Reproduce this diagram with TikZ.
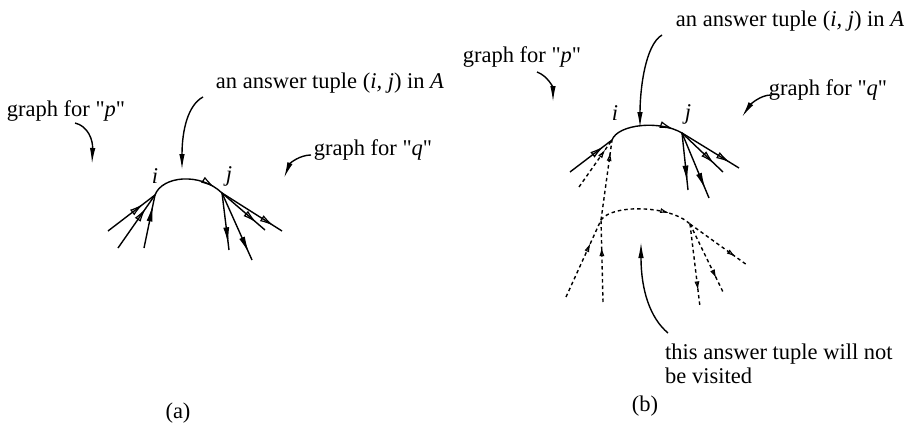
\documentclass[tikz,border=0pt]{standalone}
\usepackage{fontspec}
\setmainfont{Liberation Serif}
\newfontfamily\plainq{Liberation Serif}
\newcommand{\dq}{{\plainq"}}
\usetikzlibrary{arrows.meta,decorations.markings}
\begin{document}
\begin{tikzpicture}[x=1pt,y=-1pt,
 lbl/.style={inner sep=0pt,anchor=base,font=\fontsize{22.5}{22.5}\selectfont},
 lblw/.style={inner sep=0pt,anchor=base west,font=\fontsize{22.5}{22.5}\selectfont},
 ptr/.style={line width=1.4pt,-{Latex[length=16pt,width=5.5pt]}},
 edge/.style={line width=1.4pt},
 dsh/.style={line width=1.4pt,dash pattern=on 3.5pt off 3pt},
 tipat/.style={postaction={decorate,decoration={markings,mark=at position #1 with {\arrow{Latex[length=17pt,width=6pt]}}}}},
 otipat/.style={postaction={decorate,decoration={markings,mark=at position #1 with {\arrow{Latex[open,length=14pt,width=7pt,line width=1.2pt]}}}}},
 stipat/.style={postaction={decorate,decoration={markings,mark=at position #1 with {\arrow{Latex[open,length=9pt,width=5pt,line width=1.1pt]}}}}},
]
\fill[white] (0,0) rectangle (917,428);
\useasboundingbox (0,0) rectangle (917,428);

% ---------------- panel (a) ----------------
\node[lbl] (pa) at (66,116) {graph for \dq\textit{p}\dq};
\node[lbl] (ansa) at (330,88) {an answer tuple (\textit{i, j}) in \textit{A}};
\node[lbl] (qa) at (373,155) {graph for \dq\textit{q}\dq};
\node[lbl] (capa) at (178,418) {(a)};
\node[lbl] (ilaba) at (155,183) {\textit{i}};
\node[lbl] (jlaba) at (229,181) {\textit{j}};

\coordinate (ia) at (155,195);
\coordinate (ja) at (222,193);
\coordinate (la1) at (108,231);
\coordinate (la2) at (118,248);
\coordinate (la3) at (144,248);
\coordinate (ra1) at (229,250);
\coordinate (ra2) at (252,260);
\coordinate (ra3) at (265,230);
\coordinate (ra4) at (282,231);

\coordinate (pas) at (75,123);  \coordinate (pae) at (92,164);
\coordinate (aas) at (203,97);  \coordinate (aae) at (182,170);
\coordinate (qas) at (311,155); \coordinate (qae) at (284,178);

\draw[ptr] (pas) .. controls (88,126) and (93,140) .. (pae);
\draw[ptr] (aas) .. controls (188,105) and (182,130) .. (aae);
\draw[ptr] (qas) .. controls (300,155) and (290,163) .. (qae);

\draw[edge,otipat=0.88] (ia) .. controls (162,176) and (200,172) .. (ja);
\draw[edge,otipat=0.75] (la1) -- (ia);
\draw[edge,otipat=0.75] (la2) -- (ia);
\draw[edge,tipat=0.82] (la3) -- (ia);
\draw[edge,tipat=0.9] (ja) -- (ra1);
\draw[edge,tipat=0.9] (ja) -- (ra2);
\draw[edge,otipat=0.8] (ja) -- (ra3);
\draw[edge,otipat=0.86] (ja) -- (ra4);

% ---------------- panel (b) ----------------
\node[lbl] (pb) at (522,63) {graph for \dq\textit{p}\dq};
\node[lbl] (ansb) at (790,27) {an answer tuple (\textit{i, j}) in \textit{A}};
\node[lbl] (qb) at (828,95) {graph for \dq\textit{q}\dq};
\node[lbl] (capb) at (645,411) {(b)};
\node[lbl] (ilabb) at (615,120) {\textit{i}};
\node[lbl] (jlabb) at (688,119) {\textit{j}};
\node[lblw] (nv1) at (665,359) {this answer tuple will not};
\node[lblw] (nv2) at (665,383) {be visited};

\coordinate (ib) at (612,140);
\coordinate (jb) at (682,133);
\coordinate (ib2) at (601,220);
\coordinate (jb2) at (690,224);
\coordinate (lb1) at (570,172);
\coordinate (lb2) at (579,187);
\coordinate (lb3) at (566,297);
\coordinate (lb4) at (603,302);
\coordinate (rb1) at (688,190);
\coordinate (rb2) at (709,198);
\coordinate (rb3) at (723,172);
\coordinate (rb4) at (739,168);
\coordinate (rd1) at (700,307);
\coordinate (rd2) at (723,292);
\coordinate (rd3) at (747,265);

\coordinate (pbs) at (537,72);  \coordinate (pbe) at (553,102);
\coordinate (abs) at (662,35);  \coordinate (abe) at (640,128);
\coordinate (qbs) at (771,95);  \coordinate (qbe) at (742,117);
\coordinate (nvs) at (668,333); \coordinate (nve) at (641,242);

\draw[ptr] (pbs) .. controls (548,76) and (553,88) .. (pbe);
\draw[ptr] (abs) .. controls (645,45) and (640,90) .. (abe);
\draw[ptr] (qbs) .. controls (760,95) and (750,105) .. (qbe);
\draw[ptr] (nvs) .. controls (650,318) and (641,290) .. (nve);

\draw[edge,otipat=0.88] (ib) .. controls (618,124) and (660,120) .. (jb);
\draw[edge,otipat=0.8] (lb1) -- (ib);
\draw[dsh,stipat=0.8] (lb2) -- (ib);
\draw[dsh,stipat=0.85] (ib2) -- (ib);
\draw[edge,tipat=0.87] (jb) -- (rb1);
\draw[edge,tipat=0.87] (jb) -- (rb2);
\draw[edge,otipat=0.78] (jb) -- (rb3);
\draw[edge,otipat=0.84] (jb) -- (rb4);

\draw[dsh,stipat=0.75] (ib2) .. controls (612,204) and (670,205) .. (jb2);
\draw[dsh,stipat=0.7] (lb3) -- (ib2);
\draw[dsh,stipat=0.67] (lb4) -- (ib2);
\draw[dsh,stipat=0.8] (jb2) -- (rd1);
\draw[dsh,stipat=0.8] (jb2) -- (rd2);
\draw[dsh,stipat=0.8] (jb2) -- (rd3);
\end{tikzpicture}
\end{document}
